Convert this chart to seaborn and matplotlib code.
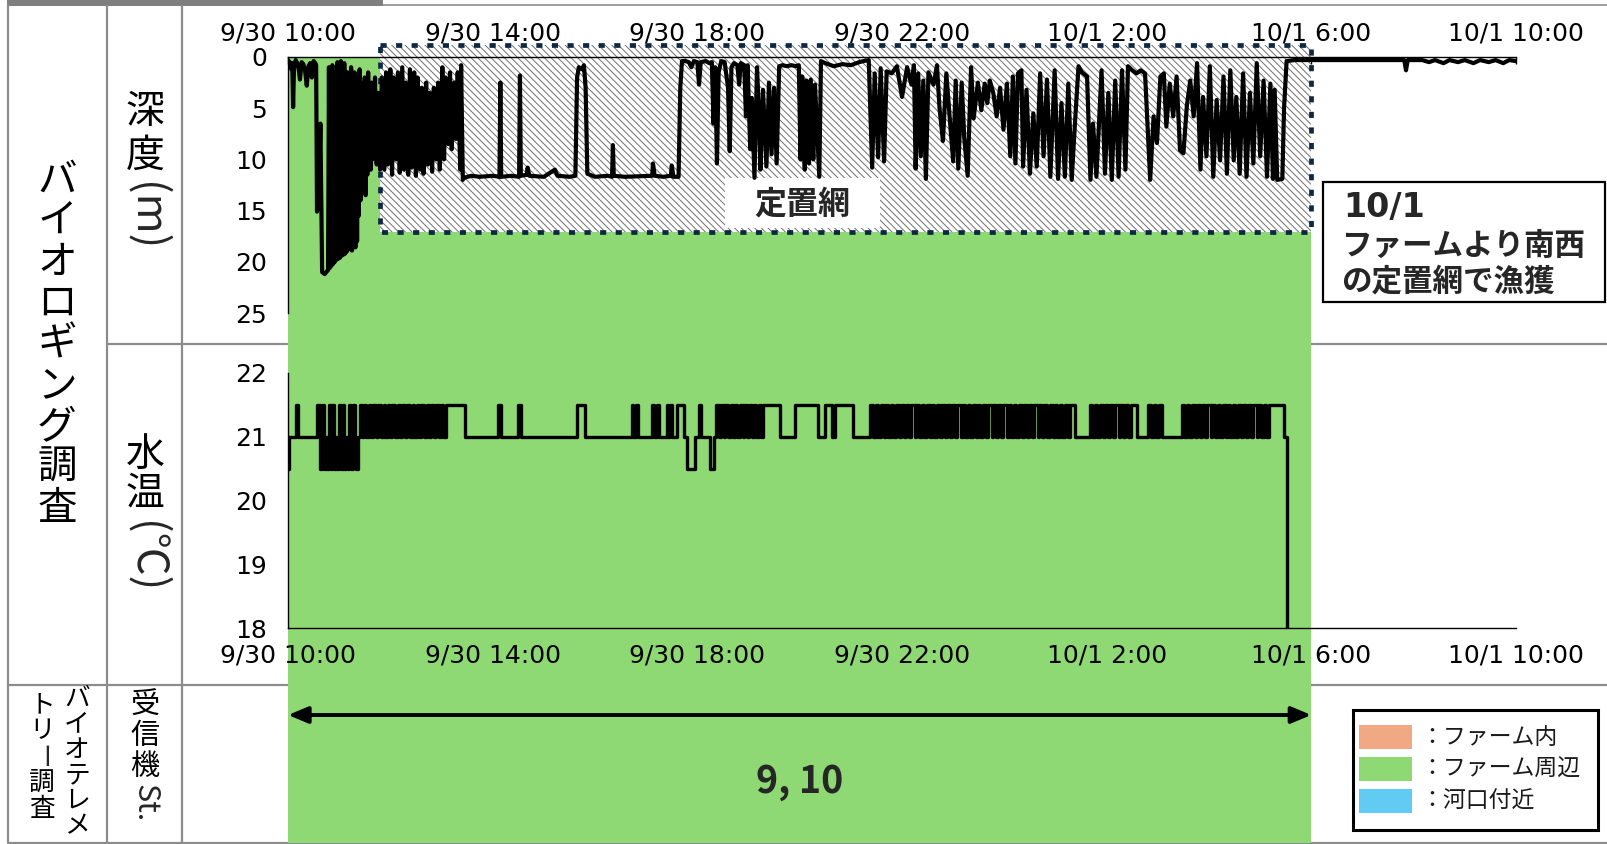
import numpy as np
import pandas as pd
import matplotlib
matplotlib.use("Agg")
import matplotlib.pyplot as plt
from matplotlib.patches import Rectangle
import seaborn as sns

# ---------------- data ----------------
time_ticks = [0, 240, 480, 720, 960, 1200, 1440]          # minutes after 9/30 10:00
time_labels = ["9/30 10:00", "9/30 14:00", "9/30 18:00", "9/30 22:00",
               "10/1 2:00", "10/1 6:00", "10/1 10:00"]
depth_ticks = [0, 5, 10, 15, 20, 25]
temp_ticks = [18, 19, 20, 21, 22]

# (minute, depth m)
depth_readings = [
    (0, 0.3), (2, 0.5), (4, 1.2), (5, 0.6), (6, 4.9), (7, 1.2), (9, 0.3), (12, 0.8), (14, 2.2), (16, 0.5),
    (18, 0.7), (20, 1.3), (22, 2.8), (24, 0.9), (26, 0.6), (28, 2.0), (30, 0.4), (32, 0.6), (33, 0.8),
    (34, 15.1), (36, 14.5), (38, 6.5), (40, 21.0), (43, 21.2), (46, 20.9), (47, 20.8), (48, 1.0), (49, 20.6),
    (50, 3.0), (51, 20.4), (52, 0.8), (53, 20.2), (54, 5.0), (55, 20.0), (56, 1.5), (57, 19.8), (58, 0.5),
    (59, 19.7), (60, 3.5), (61, 19.6), (62, 0.4), (63, 19.4), (64, 2.0), (65, 19.3), (66, 0.6), (67, 19.2),
    (68, 1.5), (69, 19.0), (70, 1.5), (71, 18.8), (72, 2.5), (73, 18.5), (74, 1.0), (75, 18.9), (76, 3.0),
    (77, 18.2), (78, 1.5), (79, 18.6), (80, 2.0), (81, 18.0), (82, 3.5), (83, 15.5), (84, 1.2), (85, 14.0),
    (86, 2.5), (87, 11.5), (88, 4.0), (89, 13.0), (90, 2.0), (91, 13.5), (92, 3.0), (93, 11.5), (94, 1.5),
    (95, 10.5), (96, 4.0), (97, 11.0), (98, 2.5), (99, 10.0), (100, 5.0), (101, 9.5), (102, 2.0), (104, 10.5),
    (106, 3.5), (108, 11.0),
    (110, 2.0), (113, 11.0), (115, 1.5), (117, 10.5), (120, 1.2), (122, 11.5), (124, 2.0), (127, 10.0),
    (129, 1.5), (131, 11.3), (134, 1.0), (136, 11.0), (138, 2.5), (141, 11.5), (143, 1.2), (145, 10.8),
    (148, 1.5), (150, 11.6), (152, 2.0), (155, 11.0), (157, 3.0), (159, 11.4), (162, 2.5), (164, 10.5),
    (166, 3.5), (169, 11.2), (171, 3.0), (174, 10.0), (176, 2.5), (178, 11.0), (181, 1.0), (183, 10.0),
    (185, 2.0), (188, 8.5), (190, 1.5), (192, 9.0), (195, 2.5), (197, 8.0), (199, 1.5), (202, 11.0),
    (203, 0.8), (205, 12.0),
    (206, 11.8), (215, 11.6), (225, 11.7), (240, 11.6), (248, 11.7), (249, 2.5), (250, 11.7), (262, 11.6),
    (271, 11.7), (272, 1.8), (273, 11.6), (280, 11.5), (281, 10.8), (283, 11.6), (300, 11.7), (313, 11.0),
    (316, 11.6), (330, 11.7), (337, 11.6), (339, 2.0), (341, 1.0), (345, 1.2), (347, 0.8), (349, 3.0),
    (351, 11.4), (360, 11.7), (375, 11.6), (380, 11.7), (381, 8.6), (382, 11.6), (395, 11.7), (427, 11.6),
    (428, 10.4), (430, 11.6), (440, 11.7), (449, 11.6), (450, 10.6), (452, 11.7), (458, 11.7), (460, 3.0),
    (462, 0.4),
    (466, 0.4), (470, 0.5), (473, 1.0), (476, 0.4), (480, 0.5), (482, 2.7), (484, 0.5), (490, 0.4),
    (494, 0.6), (497, 0.5), (499, 6.5), (501, 1.0), (503, 10.4), (505, 1.5), (508, 0.4), (512, 0.5),
    (516, 3.0), (518, 9.2), (520, 1.0), (523, 0.6), (527, 0.8), (529, 2.7), (531, 0.6), (535, 0.8),
    (537, 5.8), (539, 0.8), (542, 9.0), (544, 4.0), (547, 11.8), (550, 1.0), (552, 5.0), (554, 11.0),
    (557, 3.2), (561, 10.7), (564, 2.5), (567, 9.5), (570, 3.0), (573, 10.4), (576, 0.9), (580, 0.8),
    (585, 0.9), (590, 0.8), (596, 0.9), (599, 0.8), (601, 10.0), (603, 1.9), (606, 11.0), (608, 2.3),
    (611, 10.4), (613, 2.2), (616, 10.0), (618, 2.7), (623, 11.7), (625, 0.4), (630, 0.6), (640, 0.9),
    (650, 0.7), (660, 0.8), (670, 0.5), (675, 0.4), (681, 0.3), (685, 10.8), (688, 1.6), (692, 9.8),
    (695, 1.1), (699, 10.2), (702, 1.4), (708, 1.6), (714, 0.9), (720, 3.9), (726, 1.0), (731, 2.7),
    (734, 0.8), (736, 10.9), (739, 1.6), (742, 9.7), (745, 2.3), (748, 11.9), (751, 1.5), (757, 2.7),
    (761, 0.8), (764, 5.0), (768, 8.2), (772, 1.6), (776, 6.0), (780, 10.2), (783, 2.3), (786, 10.9),
    (790, 2.5), (793, 7.9), (797, 11.6), (801, 1.0), (804, 6.0), (809, 2.5), (813, 5.2), (817, 2.6),
    (820, 4.5),
    (823, 2.3), (827, 3.5), (831, 5.8), (835, 3.0), (839, 7.1), (843, 2.6), (847, 9.7), (850, 1.9),
    (853, 10.4), (856, 1.6), (860, 1.3), (862, 10.7), (866, 3.2), (870, 11.4), (874, 5.5), (878, 10.7),
    (882, 1.6), (886, 9.7), (890, 2.2), (894, 11.7), (899, 1.3), (903, 11.9), (907, 4.5), (911, 11.7),
    (915, 2.6), (919, 12.0), (923, 6.2), (927, 0.9), (931, 1.5), (937, 1.9), (941, 12.0), (944, 6.5),
    (948, 11.7), (954, 1.3), (958, 11.4), (962, 3.5), (966, 12.0), (970, 2.3), (974, 11.7), (978, 1.3),
    (982, 11.0), (985, 0.9), (990, 1.3), (995, 1.6), (1000, 1.3), (1005, 1.6), (1011, 12.0), (1015, 5.8),
    (1019, 8.4), (1023, 1.9), (1027, 1.6), (1030, 6.8), (1034, 2.6), (1038, 5.8), (1042, 1.9), (1046, 9.1),
    (1050, 9.4), (1054, 4.8), (1058, 2.3), (1062, 5.8), (1066, 0.6), (1070, 11.0), (1073, 3.9), (1077, 9.7),
    (1081, 0.9), (1085, 11.7), (1089, 4.2), (1093, 10.1), (1097, 1.9), (1101, 11.4), (1105, 1.3),
    (1109, 10.1), (1112, 3.9), (1116, 11.4), (1120, 1.6), (1124, 11.7), (1128, 3.5), (1132, 10.4),
    (1136, 0.6), (1140, 9.7), (1144, 2.3), (1148, 11.7), (1152, 2.6), (1155, 11.9), (1157, 3.2),
    (1160, 12.0), (1166, 11.9), (1168, 5.0), (1171, 0.4),
    (1180, 0.3), (1200, 0.3), (1230, 0.3), (1260, 0.3), (1290, 0.3), (1309, 0.3), (1311, 1.3), (1313, 0.3),
    (1330, 0.3), (1338, 0.5), (1345, 0.3), (1355, 0.6), (1362, 0.3), (1372, 0.5), (1380, 0.3), (1390, 0.6),
    (1398, 0.3), (1408, 0.5), (1416, 0.3), (1425, 0.6), (1432, 0.3), (1440, 0.4),
]

# (minute, water temperature degC) - value holds until next reading
temp_readings = [
    (0, 20.5), (1, 21.0), (9, 21.5), (12, 21.0), (34, 21.5), (38, 20.5), (40, 21.5), (42, 20.5), (44, 21.0),
    (46, 20.5), (48, 21.5), (50, 20.5), (52, 21.5), (54, 20.5), (56, 21.0), (58, 20.5), (60, 21.5),
    (62, 20.5), (64, 21.5), (66, 20.5), (68, 21.0), (70, 20.5), (72, 21.5), (74, 20.5), (76, 21.5),
    (78, 21.0), (80, 20.5), (82, 21.0), (84, 21.5), (87, 21.0), (89, 21.5), (92, 21.0), (95, 21.5),
    (97, 21.0), (100, 21.5), (103, 21.0), (105, 21.5), (109, 21.0), (112, 21.5), (114, 21.0), (117, 21.5),
    (120, 21.0), (122, 21.5), (126, 21.0), (129, 21.5), (131, 21.0), (134, 21.5), (137, 21.0), (139, 21.5),
    (143, 21.0), (146, 21.5), (148, 21.0), (151, 21.5), (154, 21.0), (156, 21.5), (160, 21.0), (163, 21.5),
    (165, 21.0), (168, 21.5), (171, 21.0), (173, 21.5), (177, 21.0), (180, 21.5), (182, 21.0), (185, 21.5),
    (207, 21.0), (246, 21.5), (250, 21.0), (270, 21.5), (273, 21.0), (339, 21.5), (348, 21.0), (403, 21.5),
    (405, 21.0), (408, 21.5), (410, 21.0), (427, 21.5), (429, 21.0), (433, 21.5), (435, 21.0), (444, 21.5),
    (446, 21.0), (448, 21.5), (450, 21.0), (456, 21.5), (464, 21.0), (468, 20.5), (477, 21.0), (482, 21.5),
    (484, 21.0), (495, 20.5), (499, 21.0), (502, 21.5), (505, 21.0), (508, 21.5), (511, 21.0), (513, 21.5),
    (516, 21.0), (519, 21.5), (522, 21.0), (524, 21.5), (527, 21.0), (530, 21.5), (533, 21.0), (535, 21.5),
    (538, 21.0), (541, 21.5), (544, 21.0), (546, 21.5), (549, 21.0), (552, 21.5), (555, 21.0), (557, 21.5),
    (577, 21.0), (594, 21.5), (622, 21.0), (630, 21.5), (638, 21.0), (641, 21.5), (663, 21.0), (683, 21.5),
    (686, 21.0), (689, 21.5), (692, 21.0), (695, 21.5), (699, 21.0), (701, 21.5), (704, 21.0), (707, 21.5),
    (710, 21.0), (713, 21.5), (717, 21.0), (719, 21.5), (722, 21.0), (725, 21.5), (728, 21.0), (731, 21.5),
    (735, 21.0), (737, 21.5), (740, 21.0), (743, 21.5), (746, 21.0), (749, 21.5), (753, 21.0), (755, 21.5),
    (758, 21.0), (761, 21.5), (764, 21.0), (767, 21.5), (771, 21.0), (773, 21.5), (776, 21.0), (779, 21.5),
    (782, 21.0), (785, 21.5), (789, 21.0), (791, 21.5), (794, 21.0), (797, 21.5), (800, 21.0), (803, 21.5),
    (807, 21.0), (809, 21.5), (812, 21.0), (815, 21.5), (818, 21.0), (821, 21.5), (825, 21.0), (827, 21.5),
    (830, 21.0), (833, 21.5), (836, 21.0), (839, 21.5), (843, 21.0), (845, 21.5), (848, 21.0), (851, 21.5),
    (854, 21.0), (857, 21.5), (861, 21.0), (863, 21.5), (866, 21.0), (869, 21.5), (872, 21.0), (875, 21.5),
    (879, 21.0), (881, 21.5), (884, 21.0), (887, 21.5), (890, 21.0), (893, 21.5), (897, 21.0), (899, 21.5),
    (902, 21.0), (905, 21.5), (908, 21.0), (911, 21.5), (915, 21.0), (917, 21.5), (923, 21.0), (940, 21.5),
    (943, 21.0), (946, 21.5), (949, 21.0), (952, 21.5), (956, 21.0), (958, 21.5), (961, 21.0), (964, 21.5),
    (967, 21.0), (970, 21.5), (974, 21.0), (976, 21.5), (979, 21.0), (982, 21.5), (985, 21.0), (988, 21.5),
    (995, 21.0), (1009, 21.5), (1012, 21.0), (1015, 21.5), (1018, 21.0), (1021, 21.5), (1025, 21.0),
    (1048, 21.5), (1051, 21.0), (1054, 21.5), (1057, 21.0), (1060, 21.5), (1064, 21.0), (1066, 21.5),
    (1069, 21.0), (1072, 21.5), (1075, 21.0), (1078, 21.5), (1082, 21.0), (1084, 21.5), (1087, 21.0),
    (1090, 21.5), (1093, 21.0), (1096, 21.5), (1100, 21.0), (1102, 21.5), (1105, 21.0), (1108, 21.5),
    (1111, 21.0), (1114, 21.5), (1118, 21.0), (1120, 21.5), (1123, 21.0), (1126, 21.5), (1129, 21.0),
    (1132, 21.5), (1136, 21.0), (1138, 21.5), (1141, 21.0), (1144, 21.5), (1147, 21.0), (1150, 21.5),
    (1168, 21.0), (1171, 18.0), (1172, 18.0),
]

farm_span = (0, 1200)          # minutes: receiver St. 9,10 (ファーム周辺)
net_span = (108, 1200)         # 定置網 period
net_depth = (-1.2, 17.1)
receiver_label = "9, 10"
legend_labels = ["：ファーム内", "：ファーム周辺", "：河口付近"]
legend_colors = ["#F1A983", "#8ED973", "#61CBF3"]

# ---------------- style ----------------
sns.set_theme(style="white")
plt.rcParams["font.family"] = ["DejaVu Sans", "Noto Sans CJK JP"]
plt.rcParams["hatch.linewidth"] = 0.7
JP = ["Noto Sans CJK JP", "DejaVu Sans"]
GREEN = legend_colors[1]
NAVY = "#0E2841"
GRID = "#8C8C8C"

W, H = 1608, 844
fig = plt.figure(figsize=(W / 100, H / 100), dpi=100)


def rect(l, t, r, b):
    return [l / W, 1 - b / H, (r - l) / W, (b - t) / H]


# background / table layer (pixel coordinates)
ax_bg = fig.add_axes([0, 0, 1, 1], zorder=0)
ax_bg.set_xlim(0, W)
ax_bg.set_ylim(H, 0)
ax_bg.axis("off")

for x in (8, 107, 182):
    ax_bg.plot([x, x], [5, 843], color=GRID, lw=1.6, solid_capstyle="butt")
ax_bg.plot([107, W], [344, 344], color=GRID, lw=1.6)
ax_bg.plot([8, W], [685, 685], color=GRID, lw=1.6)
ax_bg.plot([8, W], [843, 843], color=GRID, lw=1.6)
ax_bg.add_patch(Rectangle((7, 0), 376, 6, color="#7F7F7F", lw=0))
ax_bg.plot([383, W], [4.5, 4.5], color=GRID, lw=1.2)


def vtext(x, ys, chars, size):
    for y, c in zip(ys, chars):
        ax_bg.text(x, y, c, ha="center", va="center", fontsize=size, family=JP, color="black")


vtext(57, [181 + 41 * i for i in range(9)], "バイオロギング調査", 28.5)
vtext(145, [112, 156], "深度", 28)
ax_bg.text(145, 217, "(m)", rotation=-90, ha="center", va="center", fontsize=31, family=JP)
vtext(145, [455, 494], "水温", 28)
ax_bg.text(145, 557, "(℃)", rotation=-90, ha="center", va="center", fontsize=31, family=JP)
vtext(145, [706, 736, 767], "受信機", 21)
ax_bg.text(145, 803, "St.", rotation=-90, ha="center", va="center", fontsize=22, family=JP)
vtext(77, [699, 724.5, 750, 775.5, 801, 826.5], "バイオテレメ", 18.5)
vtext(42, [705, 731], "トリ", 18.5)
ax_bg.text(42, 757, "ー", rotation=-90, ha="center", va="center", fontsize=18.5, family=JP)
vtext(42, [783, 809], "調査", 18.5)

# annotation box
ax_bg.add_patch(Rectangle((1323, 182), 282, 120, facecolor="white", edgecolor="black", lw=1.6))
ax_bg.text(1343, 207, "10/1", ha="left", va="center", fontsize=24, fontweight="bold", family=["DejaVu Sans"])
ax_bg.text(1341, 246, "ファームより南西", ha="left", va="center", fontsize=22, fontweight="bold", family=JP)
ax_bg.text(1341, 282, "の定置網で漁獲", ha="left", va="center", fontsize=22, fontweight="bold", family=JP)

# legend
ax_bg.add_patch(Rectangle((1353, 710), 245, 120, fill=False, edgecolor="black", lw=2.2))
for i, (lab, col) in enumerate(zip(legend_labels, legend_colors)):
    yc = 737 + 32 * i
    ax_bg.add_patch(Rectangle((1359, yc - 12), 53, 24, color=col, lw=0))
    ax_bg.text(1420, yc, lab, ha="left", va="center", fontsize=16.5, family=JP, color="#1a1a1a")

# span layer: green area, arrow, receiver label
ax_span = fig.add_axes(rect(288, 57, 1516, 843), zorder=1)
ax_span.set_xlim(time_ticks[0], time_ticks[-1])
ax_span.set_ylim(843, 57)
ax_span.axis("off")
ax_span.patch.set_alpha(0)
ax_span.axvspan(farm_span[0], farm_span[1], color=GREEN, lw=0)
ax_span.annotate("", xy=(farm_span[0], 715), xytext=(farm_span[1], 715),
                 arrowprops=dict(arrowstyle="<|-|>,head_length=0.6,head_width=0.25", lw=2.8,
                                 color="black", mutation_scale=20, shrinkA=0, shrinkB=0))
ax_span.text(np.mean(farm_span), 782, receiver_label, ha="center", va="center",
             fontsize=27, fontweight="bold", family=JP)

# depth panel
df_depth = pd.DataFrame(depth_readings, columns=["minute", "depth"])
ax_d = fig.add_axes(rect(288, 57, 1516, 313), zorder=3)
ax_d.patch.set_alpha(0)
ax_d.add_patch(Rectangle((net_span[0], net_depth[0]), net_span[1] - net_span[0], net_depth[1] - net_depth[0],
                         facecolor="white", edgecolor="#707070", hatch="\\\\\\\\\\", lw=0, clip_on=False,
                         zorder=1))
ax_d.add_patch(Rectangle((net_span[0], net_depth[0]), net_span[1] - net_span[0], net_depth[1] - net_depth[0],
                         fill=False, edgecolor=NAVY, lw=3.4, linestyle=(0, (1.3, 2.0)), clip_on=False,
                         zorder=1.5))
lab_x0, lab_x1 = 512, 694
lab_y0, lab_y1 = 11.8, 16.7
ax_d.add_patch(Rectangle((lab_x0, lab_y0), lab_x1 - lab_x0, lab_y1 - lab_y0, facecolor="white", lw=0, zorder=1.6))
ax_d.text((lab_x0 + lab_x1) / 2, 14.4, "定置網", ha="center", va="center",
          fontsize=23, fontweight="bold", family=JP, zorder=1.7)
sns.lineplot(data=df_depth, x="minute", y="depth", ax=ax_d, color="black", lw=3.0,
             estimator=None, sort=False, zorder=2)
ax_d.set_xlim(time_ticks[0], time_ticks[-1])
ax_d.set_ylim(25, 0)
ax_d.set_xlabel("")
ax_d.set_ylabel("")
ax_d.xaxis.tick_top()
ax_d.set_xticks(time_ticks, time_labels)
ax_d.set_yticks(depth_ticks, [str(v) for v in depth_ticks])
ax_d.tick_params(axis="x", direction="in", length=5, width=1, pad=8.5, labelsize=18, colors="black")
ax_d.tick_params(axis="y", length=0, pad=15, labelsize=18, colors="black")
for s in ("right", "bottom"):
    ax_d.spines[s].set_visible(False)
for s in ("top", "left"):
    ax_d.spines[s].set_color("black")
    ax_d.spines[s].set_linewidth(1.0)

# temperature panel
df_temp = pd.DataFrame(temp_readings, columns=["minute", "temp"])
ax_t = fig.add_axes(rect(288, 373, 1516, 628), zorder=3)
ax_t.patch.set_alpha(0)
sns.lineplot(data=df_temp, x="minute", y="temp", ax=ax_t, color="black", lw=2.4,
             estimator=None, sort=False, drawstyle="steps-post")
ax_t.set_xlim(time_ticks[0], time_ticks[-1])
ax_t.set_ylim(temp_ticks[0], temp_ticks[-1])
ax_t.set_xlabel("")
ax_t.set_ylabel("")
ax_t.set_xticks(time_ticks, time_labels)
ax_t.set_yticks(temp_ticks, [str(v) for v in temp_ticks])
ax_t.tick_params(axis="x", direction="out", length=4.5, width=1, pad=7, labelsize=18, colors="black")
ax_t.tick_params(axis="y", length=0, pad=15, labelsize=18, colors="black")
for s in ("right", "top"):
    ax_t.spines[s].set_visible(False)
for s in ("bottom", "left"):
    ax_t.spines[s].set_color("black")
    ax_t.spines[s].set_linewidth(1.0)

fig.savefig("out.png", dpi=100)
